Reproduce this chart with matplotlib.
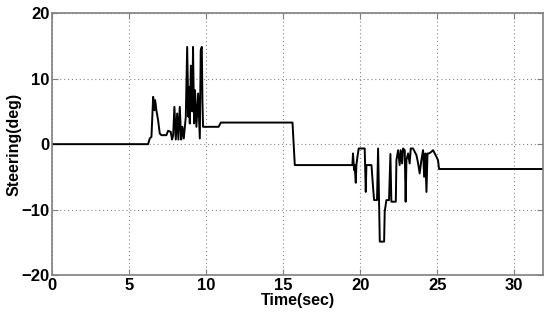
import matplotlib
matplotlib.use('Agg')
import matplotlib.pyplot as plt

plt.rcParams['font.family'] = ['Liberation Sans', 'DejaVu Sans']
plt.rcParams['font.weight'] = 'bold'

# steering angle trace
time_s = [0, 6.22, 6.33, 6.44, 6.55, 6.63, 6.68, 6.76, 6.87, 6.98, 7.09, 7.41,
          7.52, 7.69, 7.78, 7.85, 7.93, 8.02, 8.11, 8.19, 8.28, 8.37, 8.45,
          8.54, 8.67, 8.76, 8.84, 8.89, 8.93, 9.0, 9.04, 9.09, 9.14, 9.21,
          9.27, 9.36, 9.47, 9.58, 9.64, 9.71, 9.75, 9.79, 10.8, 10.95, 15.6,
          15.75, 19.49, 19.53, 19.60, 19.64, 19.71, 19.75, 19.82, 19.90,
          20.29, 20.36, 20.40, 20.73, 20.83, 20.90, 21.09, 21.16, 21.22,
          21.27, 21.55, 21.59, 21.70, 21.87, 21.96, 22.02, 22.31, 22.35,
          22.46, 22.56, 22.63, 22.72, 22.78, 22.89, 22.95, 23.0, 23.11,
          23.21, 23.28, 23.43, 23.54, 23.65, 23.76, 23.86, 23.97, 24.08,
          24.15, 24.23, 24.30, 24.37, 24.47, 24.62, 24.73, 24.84, 24.95,
          25.05, 25.12, 31.85]
steer_deg = [0, 0, 0.87, 1.12, 7.23, 5.19, 6.72, 5.19, 3.66, 1.63, 1.37, 1.37,
             2.04, 1.88, 0.71, 1.37, 5.7, 0.71, 4.68, 0.71, 5.7, 0.71, 2.65,
             0.87, 4.17, 14.86, 4.17, 8.75, 3.16, 12.0, 10.8, 5.0, 14.86, 3.16,
             8.24, 2.65, 7.74, 0.87, 14.36, 14.86, 6.72, 2.65, 2.65, 3.3, 3.3,
             -3.2, -3.2, -1.42, -3.97, -3.2, -5.9, -3.2, -1.93, -0.66,
             -0.66, -7.3, -3.2, -3.2, -6.51, -8.55, -8.55, -0.66, -8.55,
             -14.9, -14.9, -10.3, -8.55, -8.55, -1.5, -8.8, -8.8, -2.44,
             -0.92, -3.2, -0.92, -2.95, -0.66, -0.92, -8.8, -2.44, -1.42,
             -2.95, -0.66, -0.66, -1.17, -1.68, -2.95, -4.48, -2.44, -0.92,
             -5.0, -1.42, -7.3, -1.42, -1.42, -1.17, -0.92, -1.42, -1.93,
             -2.44, -3.8, -3.8]

x_ticks = [0, 5, 10, 15, 20, 25, 30]
y_ticks = [-20, -10, 0, 10, 20]

fig = plt.figure(figsize=(5.5, 3.18), dpi=100)
ax = fig.add_axes([0.0951, 0.1352, 0.8916, 0.823])

ax.plot(time_s, steer_deg, color='black', linewidth=1.4)

ax.set_xlim(0, 31.85)
ax.set_ylim(-20, 20)
ax.set_xticks(x_ticks)
ax.set_yticks(y_ticks)
ax.grid(True, linestyle=(0, (1, 2.5)), color='#888888', linewidth=0.8)

for s in ax.spines.values():
    s.set_color('#808080')
    s.set_linewidth(1.2)
ax.tick_params(direction='in', length=4, color='#808080', labelsize=12,
               labelcolor='black', pad=2, top=True, right=True)

ax.set_xlabel('Time(sec)', fontsize=11.5, fontweight='bold', labelpad=0)
ax.set_ylabel('Steering(deg)', fontsize=11.5, fontweight='bold', labelpad=0)

fig.savefig('out.png', dpi=100)
